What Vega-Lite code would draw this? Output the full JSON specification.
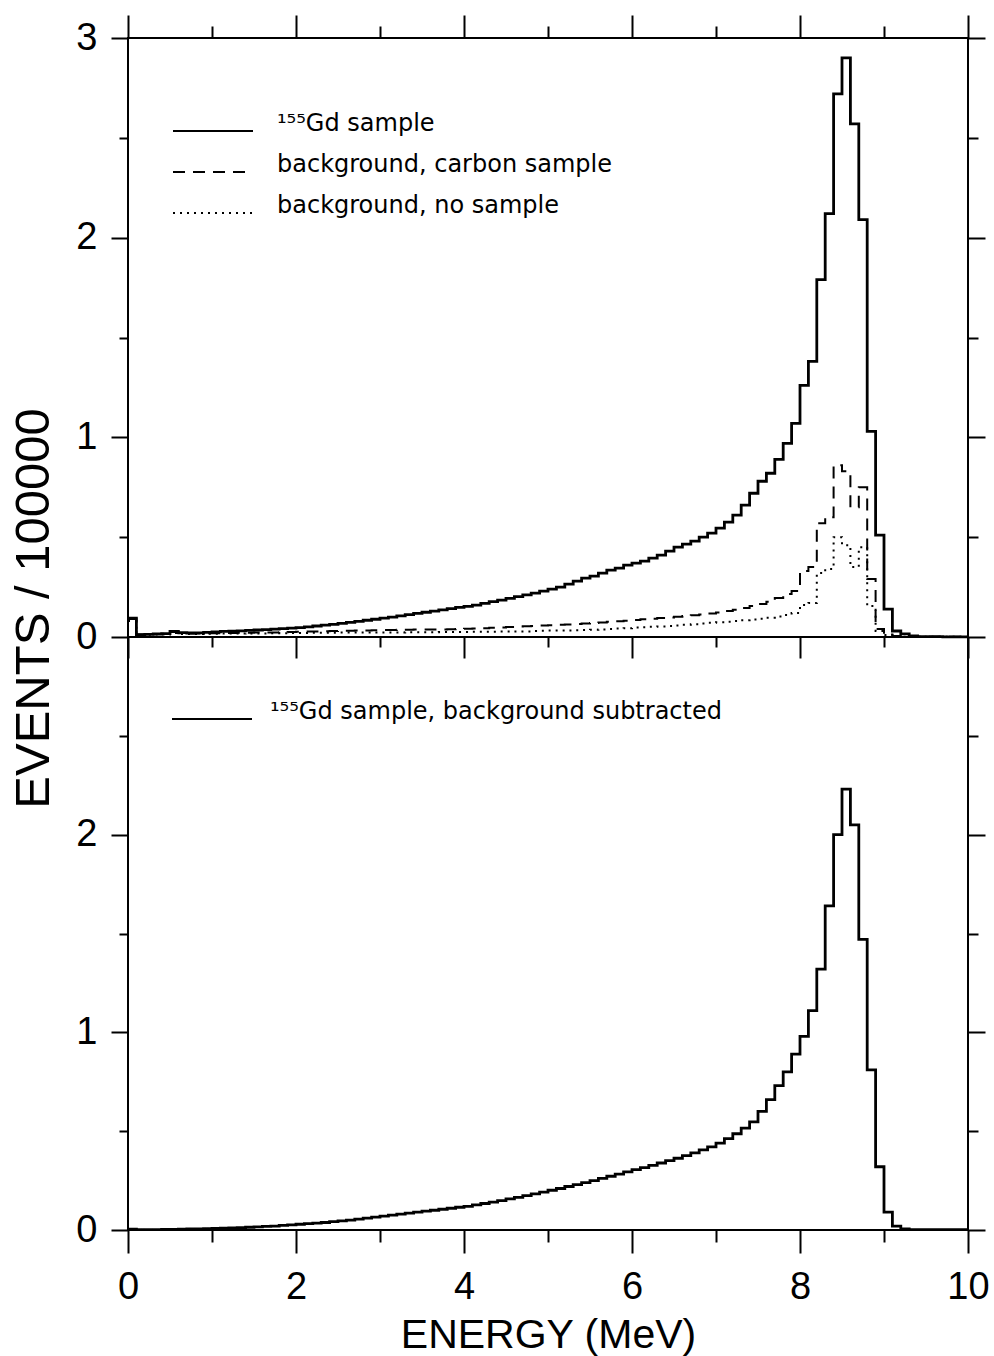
{
  "$schema": "https://vega.github.io/schema/vega-lite/v6.json",
  "background": "white",
  "padding": {"left": 8, "top": 13, "right": 20, "bottom": 5},
  "spacing": 0,
  "bounds": "flush",
  "config": {
    "view": {"stroke": "black", "strokeWidth": 2},
    "axis": {"domain": false, "grid": false, "tickColor": "black", "tickWidth": 2, "labelFont": "Liberation Sans", "labelFontSize": 38, "labelColor": "black", "titleFont": "Liberation Sans", "titleColor": "black", "titleFontWeight": "normal", "labelFlush": false, "labelOverlap": false, "labelBound": false},
    "legend": {"orient": "none", "title": null, "symbolType": "M-4,0H4", "symbolSize": 400, "symbolStrokeWidth": 2.2, "symbolStrokeColor": "black", "symbolFillColor": "transparent", "symbolOffset": 28, "labelOffset": 52, "labelFont": "DejaVu Sans", "labelFontSize": 24, "labelColor": "black", "labelBaseline": "alphabetic", "labelLimit": 800, "rowPadding": 17, "padding": 0}
  },
  "datasets": {
    "h": [
      {"e":0,"gd":0.095,"carbon":0.090,"nosample":0.080,"sub":0.004},
      {"e":0.1,"gd":0.012,"carbon":0.012,"nosample":0.010,"sub":0.002},
      {"e":0.2,"gd":0.013,"carbon":0.014,"nosample":0.011,"sub":0.002},
      {"e":0.3,"gd":0.015,"carbon":0.015,"nosample":0.012,"sub":0.002},
      {"e":0.4,"gd":0.017,"carbon":0.016,"nosample":0.013,"sub":0.003},
      {"e":0.5,"gd":0.028,"carbon":0.025,"nosample":0.020,"sub":0.003},
      {"e":0.6,"gd":0.022,"carbon":0.019,"nosample":0.015,"sub":0.004},
      {"e":0.7,"gd":0.020,"carbon":0.018,"nosample":0.015,"sub":0.005},
      {"e":0.8,"gd":0.021,"carbon":0.018,"nosample":0.015,"sub":0.006},
      {"e":0.9,"gd":0.023,"carbon":0.019,"nosample":0.016,"sub":0.007},
      {"e":1.0,"gd":0.026,"carbon":0.019,"nosample":0.016,"sub":0.008},
      {"e":1.1,"gd":0.028,"carbon":0.020,"nosample":0.017,"sub":0.009},
      {"e":1.2,"gd":0.029,"carbon":0.020,"nosample":0.017,"sub":0.011},
      {"e":1.3,"gd":0.031,"carbon":0.021,"nosample":0.017,"sub":0.012},
      {"e":1.4,"gd":0.033,"carbon":0.021,"nosample":0.018,"sub":0.014},
      {"e":1.5,"gd":0.035,"carbon":0.022,"nosample":0.018,"sub":0.016},
      {"e":1.6,"gd":0.037,"carbon":0.023,"nosample":0.018,"sub":0.018},
      {"e":1.7,"gd":0.039,"carbon":0.023,"nosample":0.019,"sub":0.020},
      {"e":1.8,"gd":0.042,"carbon":0.024,"nosample":0.019,"sub":0.023},
      {"e":1.9,"gd":0.044,"carbon":0.025,"nosample":0.020,"sub":0.026},
      {"e":2.0,"gd":0.047,"carbon":0.026,"nosample":0.020,"sub":0.029},
      {"e":2.1,"gd":0.051,"carbon":0.027,"nosample":0.020,"sub":0.032},
      {"e":2.2,"gd":0.055,"carbon":0.028,"nosample":0.021,"sub":0.035},
      {"e":2.3,"gd":0.059,"carbon":0.029,"nosample":0.021,"sub":0.038},
      {"e":2.4,"gd":0.063,"carbon":0.030,"nosample":0.021,"sub":0.042},
      {"e":2.5,"gd":0.068,"carbon":0.031,"nosample":0.022,"sub":0.046},
      {"e":2.6,"gd":0.073,"carbon":0.031,"nosample":0.022,"sub":0.050},
      {"e":2.7,"gd":0.078,"carbon":0.032,"nosample":0.022,"sub":0.055},
      {"e":2.8,"gd":0.084,"carbon":0.033,"nosample":0.022,"sub":0.060},
      {"e":2.9,"gd":0.089,"carbon":0.034,"nosample":0.023,"sub":0.065},
      {"e":3.0,"gd":0.095,"carbon":0.035,"nosample":0.023,"sub":0.070},
      {"e":3.1,"gd":0.100,"carbon":0.035,"nosample":0.023,"sub":0.075},
      {"e":3.2,"gd":0.106,"carbon":0.036,"nosample":0.023,"sub":0.080},
      {"e":3.3,"gd":0.112,"carbon":0.036,"nosample":0.024,"sub":0.085},
      {"e":3.4,"gd":0.118,"carbon":0.037,"nosample":0.024,"sub":0.090},
      {"e":3.5,"gd":0.124,"carbon":0.037,"nosample":0.024,"sub":0.095},
      {"e":3.6,"gd":0.130,"carbon":0.038,"nosample":0.024,"sub":0.100},
      {"e":3.7,"gd":0.136,"carbon":0.038,"nosample":0.025,"sub":0.105},
      {"e":3.8,"gd":0.142,"carbon":0.039,"nosample":0.025,"sub":0.110},
      {"e":3.9,"gd":0.148,"carbon":0.040,"nosample":0.025,"sub":0.115},
      {"e":4.0,"gd":0.153,"carbon":0.041,"nosample":0.025,"sub":0.120},
      {"e":4.1,"gd":0.160,"carbon":0.042,"nosample":0.026,"sub":0.127},
      {"e":4.2,"gd":0.168,"carbon":0.044,"nosample":0.026,"sub":0.134},
      {"e":4.3,"gd":0.177,"carbon":0.046,"nosample":0.026,"sub":0.141},
      {"e":4.4,"gd":0.185,"carbon":0.048,"nosample":0.027,"sub":0.149},
      {"e":4.5,"gd":0.193,"carbon":0.050,"nosample":0.027,"sub":0.157},
      {"e":4.6,"gd":0.202,"carbon":0.052,"nosample":0.028,"sub":0.165},
      {"e":4.7,"gd":0.211,"carbon":0.054,"nosample":0.028,"sub":0.174},
      {"e":4.8,"gd":0.220,"carbon":0.055,"nosample":0.030,"sub":0.183},
      {"e":4.9,"gd":0.230,"carbon":0.057,"nosample":0.031,"sub":0.192},
      {"e":5.0,"gd":0.240,"carbon":0.059,"nosample":0.032,"sub":0.201},
      {"e":5.1,"gd":0.250,"carbon":0.061,"nosample":0.032,"sub":0.210},
      {"e":5.2,"gd":0.265,"carbon":0.063,"nosample":0.033,"sub":0.220},
      {"e":5.3,"gd":0.280,"carbon":0.065,"nosample":0.034,"sub":0.230},
      {"e":5.4,"gd":0.295,"carbon":0.067,"nosample":0.035,"sub":0.240},
      {"e":5.5,"gd":0.305,"carbon":0.070,"nosample":0.036,"sub":0.250},
      {"e":5.6,"gd":0.320,"carbon":0.073,"nosample":0.038,"sub":0.261},
      {"e":5.7,"gd":0.335,"carbon":0.076,"nosample":0.040,"sub":0.272},
      {"e":5.8,"gd":0.345,"carbon":0.079,"nosample":0.042,"sub":0.283},
      {"e":5.9,"gd":0.360,"carbon":0.082,"nosample":0.044,"sub":0.294},
      {"e":6.0,"gd":0.370,"carbon":0.085,"nosample":0.047,"sub":0.305},
      {"e":6.1,"gd":0.380,"carbon":0.089,"nosample":0.049,"sub":0.316},
      {"e":6.2,"gd":0.395,"carbon":0.092,"nosample":0.051,"sub":0.327},
      {"e":6.3,"gd":0.410,"carbon":0.095,"nosample":0.053,"sub":0.339},
      {"e":6.4,"gd":0.430,"carbon":0.098,"nosample":0.055,"sub":0.351},
      {"e":6.5,"gd":0.450,"carbon":0.101,"nosample":0.058,"sub":0.363},
      {"e":6.6,"gd":0.465,"carbon":0.105,"nosample":0.061,"sub":0.376},
      {"e":6.7,"gd":0.480,"carbon":0.109,"nosample":0.064,"sub":0.390},
      {"e":6.8,"gd":0.500,"carbon":0.113,"nosample":0.068,"sub":0.405},
      {"e":6.9,"gd":0.520,"carbon":0.118,"nosample":0.071,"sub":0.421},
      {"e":7.0,"gd":0.545,"carbon":0.123,"nosample":0.074,"sub":0.440},
      {"e":7.1,"gd":0.575,"carbon":0.130,"nosample":0.077,"sub":0.462},
      {"e":7.2,"gd":0.610,"carbon":0.137,"nosample":0.080,"sub":0.487},
      {"e":7.3,"gd":0.660,"carbon":0.145,"nosample":0.084,"sub":0.515},
      {"e":7.4,"gd":0.720,"carbon":0.155,"nosample":0.088,"sub":0.547},
      {"e":7.5,"gd":0.780,"carbon":0.165,"nosample":0.092,"sub":0.600},
      {"e":7.6,"gd":0.820,"carbon":0.177,"nosample":0.097,"sub":0.660},
      {"e":7.7,"gd":0.890,"carbon":0.195,"nosample":0.103,"sub":0.730},
      {"e":7.8,"gd":0.970,"carbon":0.215,"nosample":0.110,"sub":0.800},
      {"e":7.9,"gd":1.070,"carbon":0.230,"nosample":0.120,"sub":0.890},
      {"e":8.0,"gd":1.260,"carbon":0.330,"nosample":0.160,"sub":0.980},
      {"e":8.1,"gd":1.380,"carbon":0.350,"nosample":0.170,"sub":1.110},
      {"e":8.2,"gd":1.790,"carbon":0.570,"nosample":0.320,"sub":1.320},
      {"e":8.3,"gd":2.120,"carbon":0.600,"nosample":0.340,"sub":1.640},
      {"e":8.4,"gd":2.720,"carbon":0.860,"nosample":0.500,"sub":2.000},
      {"e":8.5,"gd":2.900,"carbon":0.830,"nosample":0.460,"sub":2.230},
      {"e":8.6,"gd":2.570,"carbon":0.650,"nosample":0.350,"sub":2.050},
      {"e":8.7,"gd":2.090,"carbon":0.750,"nosample":0.450,"sub":1.470},
      {"e":8.8,"gd":1.030,"carbon":0.290,"nosample":0.155,"sub":0.810},
      {"e":8.9,"gd":0.510,"carbon":0.040,"nosample":0.030,"sub":0.320},
      {"e":9.0,"gd":0.140,"carbon":0.012,"nosample":0.010,"sub":0.090},
      {"e":9.1,"gd":0.030,"carbon":0.005,"nosample":0.004,"sub":0.020},
      {"e":9.2,"gd":0.016,"carbon":0.002,"nosample":0.001,"sub":0.005},
      {"e":9.3,"gd":0.006,"carbon":0.002,"nosample":0.001,"sub":0.002},
      {"e":9.4,"gd":0.002,"carbon":0.001,"nosample":0.001,"sub":0.002},
      {"e":9.5,"gd":0.002,"carbon":0.001,"nosample":0.001,"sub":0.002},
      {"e":9.6,"gd":0.002,"carbon":0.001,"nosample":0.001,"sub":0.002},
      {"e":9.7,"gd":0.001,"carbon":0.001,"nosample":0.001,"sub":0.002},
      {"e":9.8,"gd":0.001,"carbon":0.001,"nosample":0.001,"sub":0.002},
      {"e":9.9,"gd":0.001,"carbon":0.001,"nosample":0.001,"sub":0.002},
      {"e":10,"gd":0.001,"carbon":0.001,"nosample":0.001,"sub":0.002}
    ]
  },
  "vconcat": [
    {
      "width": 840,
      "height": 599,
      "data": {"name": "h"},
      "transform": [{"fold": ["gd", "carbon", "nosample"], "as": ["series", "v"]}],
      "layer": [
        {
          "transform": [{"filter": "datum.series != 'gd'"}],
          "mark": {"type": "line", "interpolate": "step-after", "color": "black", "strokeWidth": 2},
          "encoding": {
            "x": {"field": "e", "type": "quantitative", "scale": {"domain": [0, 10], "nice": false, "zero": false},
              "axis": {"orient": "bottom", "values": [0,1,2,3,4,5,6,7,8,9,10], "labels": false, "title": null,
                "tickSize": {"condition": {"test": "datum.value % 2 !== 0", "value": 10}, "value": 21}}},
            "y": {"field": "v", "type": "quantitative", "scale": {"domain": [0, 3], "nice": false},
              "axis": {"orient": "left", "values": [0,0.5,1,1.5,2,2.5,3],
                "labelExpr": "datum.value % 1 === 0 ? format(datum.value, 'd') : ''",
                "tickSize": {"condition": {"test": "datum.value % 1 !== 0", "value": 9}, "value": 17},
                "labelPadding": 14,
                "title": "EVENTS / 100000", "titleFontSize": 49, "titleX": -95, "titleY": 570, "titleAngle": -90, "titleAlign": "center", "titleBaseline": "middle"}},
            "strokeDash": {"field": "series", "type": "nominal",
              "scale": {"domain": ["gd", "carbon", "nosample"], "range": [[1, 0], [12, 8], [2, 5]]},
              "legend": {"legendX": 45, "legendY": 81,
                "labelExpr": "datum.label == 'gd' ? '¹⁵⁵Gd sample' : (datum.label == 'carbon' ? 'background, carbon sample' : 'background, no sample')"}}
          }
        },
        {
          "transform": [{"filter": "datum.series == 'gd'"}],
          "mark": {"type": "line", "interpolate": "step-after", "color": "black", "strokeWidth": 2.8},
          "encoding": {
            "x": {"field": "e", "type": "quantitative", "scale": {"domain": [0, 10], "nice": false, "zero": false},
              "axis": {"orient": "top", "values": [0,1,2,3,4,5,6,7,8,9,10], "labels": false, "title": null,
                "tickSize": {"condition": {"test": "datum.value % 2 !== 0", "value": 12}, "value": 23}}},
            "y": {"field": "v", "type": "quantitative", "scale": {"domain": [0, 3], "nice": false},
              "axis": {"orient": "right", "values": [0,0.5,1,1.5,2,2.5,3], "labels": false, "title": null,
                "tickSize": {"condition": {"test": "datum.value % 1 !== 0", "value": 10}, "value": 17}}},
            "strokeDash": {"field": "series", "type": "nominal"}
          }
        }
      ],
      "resolve": {"axis": {"x": "independent", "y": "independent"}}
    },
    {
      "width": 840,
      "height": 593,
      "data": {"name": "h"},
      "transform": [{"fold": ["sub"], "as": ["series", "v"]}],
      "layer": [
        {
          "mark": {"type": "line", "interpolate": "step-after", "color": "black", "strokeWidth": 2.8},
          "encoding": {
            "x": {"field": "e", "type": "quantitative", "scale": {"domain": [0, 10], "nice": false, "zero": false},
              "axis": {"orient": "bottom", "values": [0,1,2,3,4,5,6,7,8,9,10],
                "labelExpr": "datum.value % 2 === 0 ? format(datum.value, 'd') : ''",
                "labelPadding": 15,
                "tickSize": {"condition": {"test": "datum.value % 2 !== 0", "value": 12}, "value": 23},
                "title": "ENERGY (MeV)", "titleFontSize": 41, "titleY": 117, "titleBaseline": "alphabetic"}},
            "y": {"field": "v", "type": "quantitative", "scale": {"domain": [0, 3], "nice": false},
              "axis": {"orient": "left", "values": [0,0.5,1,1.5,2,2.5],
                "labelExpr": "datum.value % 1 === 0 ? format(datum.value, 'd') : ''",
                "tickSize": {"condition": {"test": "datum.value % 1 !== 0", "value": 9}, "value": 17},
                "labelPadding": 14, "title": null}},
            "strokeDash": {"field": "series", "type": "nominal",
              "scale": {"domain": ["sub"], "range": [[1, 0]]},
              "legend": {"legendX": 44, "legendY": 70, "labelOffset": 46, "labelExpr": "'¹⁵⁵Gd sample, background subtracted'"}}
          }
        },
        {
          "mark": {"type": "line", "interpolate": "step-after", "color": "black", "strokeWidth": 2.8, "strokeOpacity": 0},
          "encoding": {
            "x": {"field": "e", "type": "quantitative", "scale": {"domain": [0, 10], "nice": false, "zero": false}},
            "y": {"field": "v", "type": "quantitative", "scale": {"domain": [0, 3], "nice": false},
              "axis": {"orient": "right", "values": [0,0.5,1,1.5,2,2.5], "labels": false, "title": null,
                "tickSize": {"condition": {"test": "datum.value % 1 !== 0", "value": 10}, "value": 17}}},
            "strokeDash": {"field": "series", "type": "nominal"}
          }
        }
      ],
      "resolve": {"axis": {"y": "independent"}}
    }
  ],
  "resolve": {"scale": {"strokeDash": "independent"}, "legend": {"strokeDash": "independent"}}
}
